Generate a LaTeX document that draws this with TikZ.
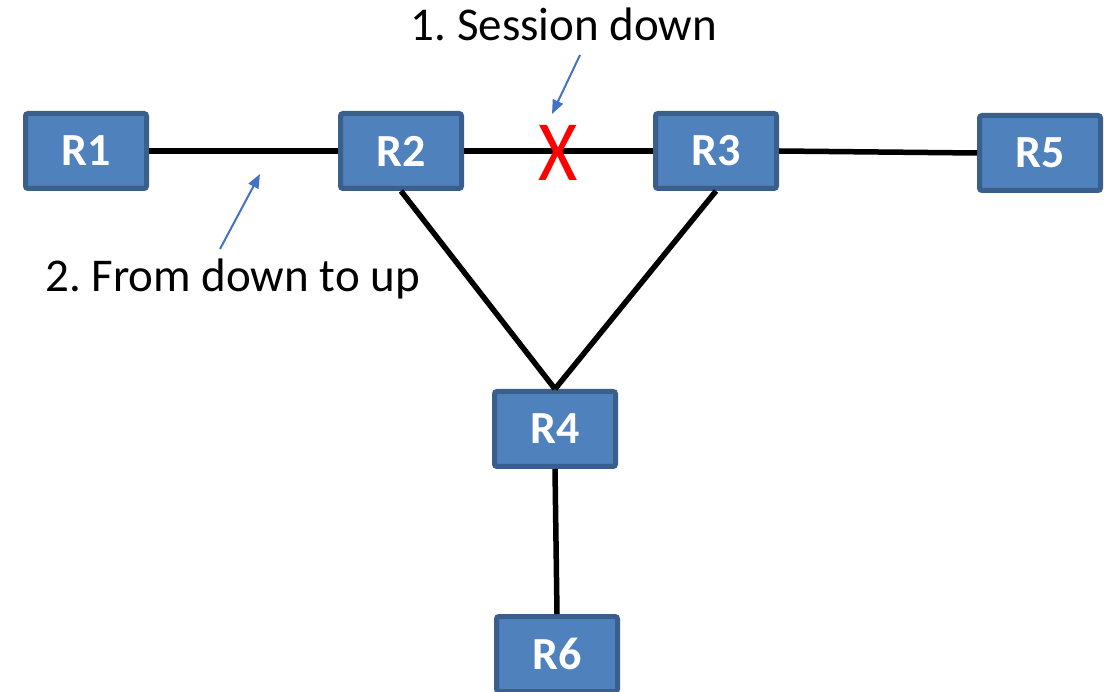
\documentclass[tikz,border=0pt]{standalone}
\usepackage{fontspec}
\setmainfont{Carlito}
\usetikzlibrary{arrows.meta}
\frenchspacing
\definecolor{routerfill}{HTML}{4F81BD}
\definecolor{routeredge}{HTML}{3A5F8B}
\definecolor{callout}{HTML}{4472C4}
\definecolor{failred}{HTML}{FF0000}
\tikzset{
  router/.style={rectangle, rounded corners=2.5pt, draw=routeredge, line width=5pt,
    fill=routerfill, text=white, minimum width=121pt, minimum height=75pt,
    inner sep=0pt, font=\fontsize{46}{50}\selectfont\bfseries},
  link/.style={line width=5.5pt, black},
  pointer/.style={line width=2pt, callout, -{Triangle[length=14pt,width=11pt]}},
  caption/.style={inner sep=0pt, font=\fontsize{47}{54}\selectfont}
}
\begin{document}
\begin{tikzpicture}[x=1pt,y=-1pt]
\useasboundingbox (0,0) rectangle (1109,692);
% routers
\node[router] (R1) at (86,151) {R1};
\node[router] (R2) at (401,151) {R2};
\node[router] (R3) at (716,151) {R3};
\node[router] (R5) at (1040,153) {R5};
\node[router] (R4) at (555,429) {R4};
\node[router] (R6) at (557,654) {R6};
% links
\draw[link] (R1.east) -- (R2.west);
\draw[link] (R2.east) -- (R3.west);
\draw[link] (R3.east) -- (R5.west);
\draw[link] (R2.south) -- (R4.north);
\draw[link] (R3.south) -- (R4.north);
\draw[link] (R4.south) -- (R6.north);
% failed session marker
\node[text=failred, inner sep=0pt, font=\fontsize{86}{90}\selectfont, xscale=0.88] (fail) at (558,153) {X};
% captions
\node[caption, anchor=base] (cap1) at (564,41) {1. Session down};
\node[caption, anchor=base west] (cap2) at (45,292) {2. From down to up};
\coordinate (p1s) at (580,55);
\coordinate (p1e) at (552,114);
\coordinate (p2s) at (220,249);
\coordinate (p2e) at (260,174);
\draw[pointer] (p1s) -- (p1e);
\draw[pointer] (p2s) -- (p2e);
\end{tikzpicture}
\end{document}
